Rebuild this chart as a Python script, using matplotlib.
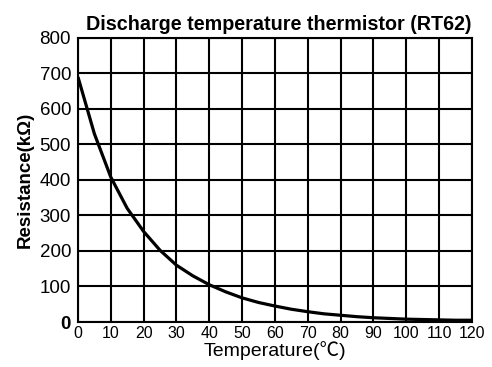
import numpy as np
import matplotlib
matplotlib.use("Agg")
import matplotlib.pyplot as plt

plt.rcParams['font.family'] = ['Liberation Sans', 'Noto Sans CJK JP', 'DejaVu Sans']

# RT62 resistance readings (kOhm) every 5 degC
temps = [0, 5, 10, 15, 20, 25, 30, 35, 40, 45, 50, 55, 60,
         65, 70, 75, 80, 85, 90, 95, 100, 105, 110, 115, 120]
resist = [690, 530, 408, 320, 255, 202, 160, 130, 105, 85, 68, 55, 45,
          36, 29, 23, 19, 15, 12, 10, 8, 7, 6, 5, 5]

xticks = list(range(0, 121, 10))
yticks = list(range(0, 801, 100))

fig = plt.figure(figsize=(4.92, 3.67), dpi=100)
ax = fig.add_axes([0.1585, 0.1226, 0.8005, 0.774])

ax.plot(temps, resist, color='black', lw=2.3, solid_capstyle='butt', zorder=3)

ax.set_xlim(0, 120)
ax.set_ylim(0, 800)
ax.set_xticks(xticks)
ax.set_yticks(yticks)
ax.tick_params(length=0)
ax.tick_params(axis='x', pad=3, labelsize=11.5)
ax.tick_params(axis='y', pad=5, labelsize=13.5)
ax.grid(True, color='black', lw=1.5)
for s in ax.spines.values():
    s.set_linewidth(1.5)
ax.get_yticklabels()[0].set_fontweight('bold')

ax.set_title('Discharge temperature thermistor (RT62)', fontsize=14.2,
             fontweight='bold', pad=6, x=0.51)
ax.set_xlabel('Temperature(\u2103)', fontsize=14, labelpad=0)
ax.set_ylabel('Resistance(k\u03a9)', fontsize=13.5, fontweight='bold', labelpad=4)

fig.savefig('out.png', dpi=100)
